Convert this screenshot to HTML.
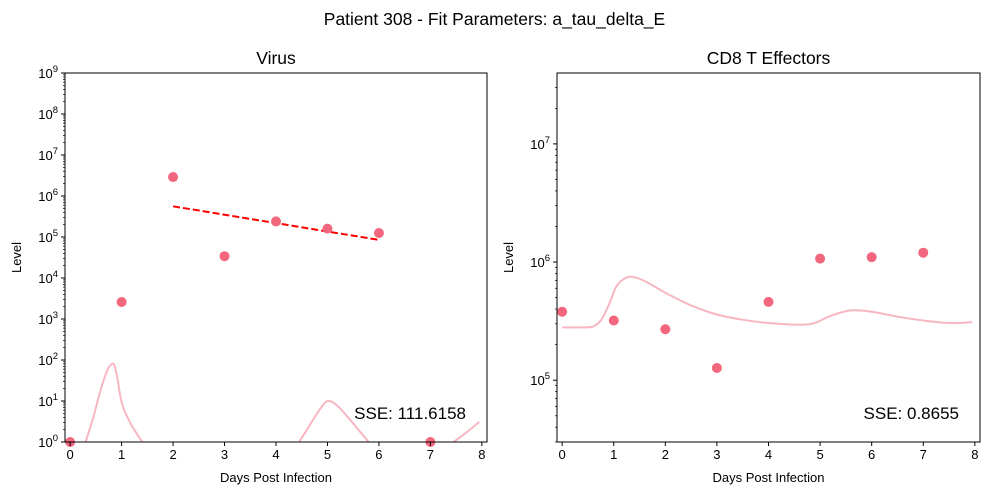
<!DOCTYPE html>
<html><head><meta charset="utf-8"><style>
body{margin:0;background:#fff;}
svg{font-family:"Liberation Sans","DejaVu Sans",sans-serif;}
</style></head><body>
<svg id="c" width="989" height="495"></svg>
<script>
const days=[0,1,2,3,4,5,6,7];
const virusVals=[1,2600,2.9e6,3.4e4,2.4e5,1.6e5,1.25e5,1];
const fitDays=[2,6];
const fitVals=[5.6e5,8.5e4];
const virusModelT=[0.3,0.45,0.6,0.72,0.8,0.86,0.92,0.98,1.05,1.2,1.4,4.45,4.6,4.8,4.95,5.05,5.2,5.4,5.6,5.8,7.45,7.7,7.95];
const virusModelV=[1,4,20,55,78,75,35,12,6,2.5,1,1,2,5,9,10,7.5,4,2,1,1,1.7,3.1];
const cd8Vals=[3.8e5,3.2e5,2.7e5,1.27e5,4.6e5,1.07e6,1.1e6,1.2e6];
const cd8ModelT=[0,0.4,0.6,0.75,0.9,1.05,1.2,1.35,1.6,2,2.5,3,3.5,4,4.6,4.9,5.2,5.6,6,6.5,7,7.5,7.95];
const cd8ModelV=[2.8e5,2.8e5,2.85e5,3.2e5,4.3e5,6.2e5,7.2e5,7.5e5,6.9e5,5.5e5,4.3e5,3.6e5,3.25e5,3.05e5,2.95e5,3.05e5,3.5e5,3.9e5,3.8e5,3.45e5,3.2e5,3.05e5,3.1e5];
const xTicks=[0,1,2,3,4,5,6,7,8];

const NS="http://www.w3.org/2000/svg";
const svg=document.getElementById('c');
function el(t,a,p){const e=document.createElementNS(NS,t);for(const k in a)e.setAttribute(k,a[k]);(p||svg).appendChild(e);return e;}
function smooth(P){
  let d='M'+P[0][0].toFixed(1)+' '+P[0][1].toFixed(1);
  for(let i=0;i<P.length-1;i++){
    const p0=P[Math.max(i-1,0)],p1=P[i],p2=P[i+1],p3=P[Math.min(i+2,P.length-1)];
    const c1=[p1[0]+(p2[0]-p0[0])/6,p1[1]+(p2[1]-p0[1])/6];
    const c2=[p2[0]-(p3[0]-p1[0])/6,p2[1]-(p3[1]-p1[1])/6];
    d+=' C'+c1[0].toFixed(1)+' '+c1[1].toFixed(1)+' '+c2[0].toFixed(1)+' '+c2[1].toFixed(1)+' '+p2[0].toFixed(1)+' '+p2[1].toFixed(1);
  }
  return d;
}

const t=el('text',{x:494.5,y:25,'text-anchor':'middle','font-size':'17.5'});t.textContent='Patient 308 - Fit Parameters: a_tau_delta_E';



function panel(o){
  const g=el('g',{});
  
  
  const X=v=>o.x0+(v-o.xmin)/(o.xmax-o.xmin)*(o.x1-o.x0);
  const Y=v=>o.y1-(Math.log10(v)-o.lmin)/(o.lmax-o.lmin)*(o.y1-o.y0);
  const tt=el('text',{x:(o.x0+o.x1)/2,y:64,'text-anchor':'middle','font-size':'17.5'},g);tt.textContent=o.title;
  
  
  const clip='cl'+o.name;
  const cp=el('clipPath',{id:clip},g);el('rect',{x:o.x0,y:o.y0,width:o.x1-o.x0,height:o.y1-o.y0},cp);
  const plot=el('g',{'clip-path':'url(#'+clip+')'},g);
  // model curve: split into segments at gaps (consecutive points both at or below floor)
  let segs=[[]];
  o.mT.forEach((v,i)=>{
    const pt=[X(v),Y(o.mV[i])];
    const cur=segs[segs.length-1];
    if(i>0 && o.mV[i]<=o.floor && o.mV[i-1]<=o.floor){segs.push([pt]);}
    else cur.push(pt);
  });
  segs.filter(s=>s.length>1).forEach(s=>{
    const mp=el('path',{d:smooth(s),fill:'none',stroke:'#f7b6c2','stroke-width':2},plot);
    
    
  });
  if(o.fitT){
    const fp=el('path',{d:'M'+X(o.fitT[0])+' '+Y(o.fitV[0])+' L'+X(o.fitT[1])+' '+Y(o.fitV[1]),stroke:'#ff0000','stroke-width':2,'stroke-dasharray':'7,3',fill:'none'},plot);
    
    
  }
  o.data.forEach((v,i)=>{
    const c=el('circle',{cx:X(days[i]),cy:Y(v),r:5,fill:'#f2677e'},g);
    
    
  });
  const fr=el('rect',{x:o.x0,y:o.y0,width:o.x1-o.x0,height:o.y1-o.y0,fill:'none',stroke:'#000','stroke-width':1},g);
  
  
  xTicks.forEach(v=>{
    el('line',{x1:X(v),x2:X(v),y1:o.y1,y2:o.y1+4,stroke:'#000'},g);
    const l=el('text',{x:X(v),y:o.y1+17,'text-anchor':'middle','font-size':'13'},g);l.textContent=v;
    
    
  });
  for(let e=Math.floor(o.lmin);e<=Math.ceil(o.lmax);e++){
    for(let m=1;m<10;m++){
      const lv=e+Math.log10(m); if(lv<o.lmin-1e-9||lv>o.lmax+1e-9)continue;
      const y=Y(Math.pow(10,lv));
      el('line',{x1:o.x0,x2:o.x0-(m===1?4:2),y1:y,y2:y,stroke:'#000','stroke-width':m===1?1:0.7},g);
      if(m===1){
        const l=el('text',{x:o.x0-7,y:y+5,'text-anchor':'end','font-size':'13'},g);
        
        
        const a=el('tspan',{},l);a.textContent='10';
        const b=el('tspan',{dy:-6,'font-size':'9.5'},l);b.textContent=e;
      }
    }
  }
  const xl=el('text',{x:(o.x0+o.x1)/2,y:482,'text-anchor':'middle','font-size':'13'},g);xl.textContent='Days Post Infection';
  
  
  const yl=el('text',{x:0,y:0,'text-anchor':'middle','font-size':'13',transform:'translate('+(o.x0-44)+','+((o.y0+o.y1)/2)+') rotate(-90)'},g);yl.textContent='Level';
  
  
  const s=el('text',{x:o.sseX,y:419,'text-anchor':'end','font-size':'17'},g);s.textContent=o.sse;
  
  
}
panel({name:'virus-panel',title:'Virus',x0:65,x1:487,y0:73,y1:442,xmin:-0.1,xmax:8.1,lmin:0,lmax:9,floor:1,
  data:virusVals,mT:virusModelT,mV:virusModelV,fitT:fitDays,fitV:fitVals,sse:'SSE: 111.6158',sseX:466});
panel({name:'cd8-panel',title:'CD8 T Effectors',x0:557,x1:980,y0:73,y1:442,xmin:-0.1,xmax:8.1,lmin:4.477,lmax:7.60,floor:0,
  data:cd8Vals,mT:cd8ModelT,mV:cd8ModelV,sse:'SSE: 0.8655',sseX:959});
</script>
</body></html>
